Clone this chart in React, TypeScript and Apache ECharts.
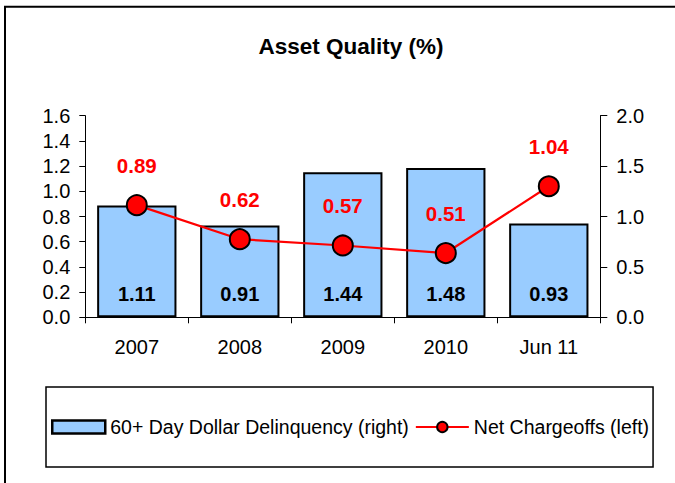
import React, { useEffect, useRef } from "react";
import * as echarts from "echarts";

const categories = ["2007", "2008", "2009", "2010", "Jun 11"];
const delinquency = [1.11, 0.91, 1.44, 1.48, 0.93];
const chargeoffs = [0.89, 0.62, 0.57, 0.51, 1.04];
const titleText = "Asset Quality (%)";
const barName = "60+ Day Dollar Delinquency (right)";
const lineName = "Net Chargeoffs (left)";

const FONT = "'Liberation Sans', Arial, Helvetica, sans-serif";

export default function App() {
  const ref = useRef<HTMLDivElement>(null);
  useEffect(() => {
    if (!ref.current) return;
    const chart = echarts.init(ref.current, undefined, { renderer: "svg" });
    chart.setOption({
      animation: false,
      backgroundColor: "#ffffff",
      textStyle: { fontFamily: FONT },
      title: {
        text: titleText,
        left: 346,
        top: 30,
        textAlign: "center",
        textStyle: { fontFamily: FONT, fontSize: 22.5, fontWeight: "bold", color: "#000" },
      } as any,
      graphic: [
        {
          type: "rect",
          shape: { x: 5, y: 6.7, width: 700, height: 520 },
          style: { fill: "none", stroke: "#000", lineWidth: 2 },
          silent: true,
          z: -1,
        },
      ],
      legend: {
        left: 46,
        top: 387,
        orient: "horizontal",
        padding: [30, 4, 30, 5],
        itemGap: 6,
        itemWidth: 53,
        itemHeight: 13,
        borderColor: "#000",
        borderWidth: 1.5,
        backgroundColor: "#fff",
        textStyle: { fontFamily: FONT, fontSize: 19.5, color: "#000" },
        data: [
          { name: barName, icon: "rect", itemStyle: { borderWidth: 2.5, borderColor: "#000" } },
          { name: lineName },
        ],
      },
      grid: { left: 85.3, right: 74.7, top: 115.7, bottom: 165.7, containLabel: false },
      xAxis: {
        type: "category",
        data: categories,
        boundaryGap: true,
        axisLine: { show: true, lineStyle: { color: "#000", width: 1 } },
        axisTick: { show: true, length: 6, alignWithLabel: false, lineStyle: { color: "#000" } },
        axisLabel: { margin: 20, fontFamily: FONT, fontSize: 20, color: "#000" },
        splitLine: { show: false },
      },
      yAxis: [
        {
          type: "value",
          min: 0,
          max: 1.6,
          interval: 0.2,
          position: "left",
          axisLine: { show: true, lineStyle: { color: "#000", width: 1 } },
          axisTick: { show: true, length: 6, lineStyle: { color: "#000" } },
          axisLabel: {
            margin: 15,
            fontFamily: FONT,
            fontSize: 20,
            color: "#000",
            formatter: (v: number) => v.toFixed(1),
          },
          splitLine: { show: false },
        },
        {
          type: "value",
          min: 0,
          max: 2.0,
          interval: 0.5,
          position: "right",
          axisLine: { show: true, lineStyle: { color: "#000", width: 1 } },
          axisTick: { show: true, length: 7, lineStyle: { color: "#000" } },
          axisLabel: {
            margin: 16,
            fontFamily: FONT,
            fontSize: 20,
            color: "#000",
            formatter: (v: number) => v.toFixed(1),
          },
          splitLine: { show: false },
        },
      ],
      series: [
        {
          name: barName,
          type: "bar",
          yAxisIndex: 1,
          data: delinquency,
          barCategoryGap: "23%",
          itemStyle: { color: "#99CCFF", borderColor: "#000", borderWidth: 2 },
          label: {
            show: true,
            position: "insideBottom",
            distance: 13,
            fontFamily: FONT,
            fontSize: 20,
            fontWeight: "bold",
            color: "#000",
            formatter: (p: any) => Number(p.value).toFixed(2),
          },
        },
        {
          name: lineName,
          type: "line",
          yAxisIndex: 0,
          data: chargeoffs,
          symbol: "circle",
          symbolSize: 20,
          lineStyle: { color: "#FF0000", width: 2.2 },
          itemStyle: { color: "#FF0000", borderColor: "#000", borderWidth: 2 },
          label: {
            show: true,
            position: "top",
            distance: 18,
            fontFamily: FONT,
            fontSize: 20.5,
            fontWeight: "bold",
            color: "#FF0000",
            formatter: (p: any) => Number(p.value).toFixed(2),
          },
          z: 3,
        },
      ],
    });
    return () => chart.dispose();
  }, []);
  return (
    <div
      ref={ref}
      style={{ position: "fixed", left: 0, top: 0, width: 675, height: 483, background: "#fff" }}
    />
  );
}
